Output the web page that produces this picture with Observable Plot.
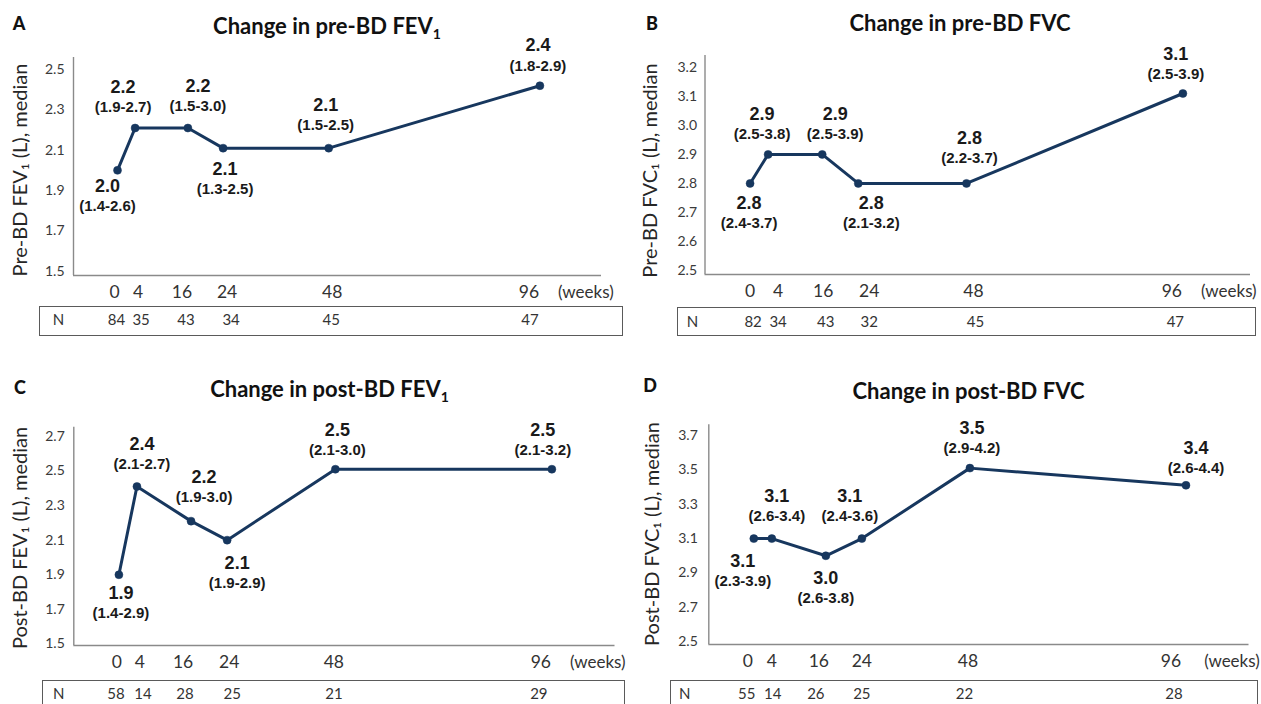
<!DOCTYPE html>
<html>
<head>
<meta charset="utf-8">
<script src="https://cdn.jsdelivr.net/npm/d3@7"></script>
<script src="https://cdn.jsdelivr.net/npm/@observablehq/plot@0.6"></script>
<style>
  html, body { margin: 0; padding: 0; background: #fff; }
  body { width: 1261px; height: 704px; overflow: hidden; position: relative; font-family: Lato, "Open Sans", sans-serif; }
  .panel { position: absolute; }
  .title { position: absolute; font-family: Lato, sans-serif; font-weight: bold; font-size: 22px; line-height: 22px; color: #111; white-space: nowrap; transform: translate(-50%, -50%); }
  .title sub { font-size: 14px; line-height: 0; vertical-align: -5px; }
  .letter { position: absolute; font-family: Lato, sans-serif; font-weight: 900; font-size: 18px; line-height: 18px; color: #111; transform: translate(-50%, -50%); }
  .nbox { position: absolute; border: 1.4px solid #5a5a5a; box-sizing: border-box; background: transparent; }
</style>
</head>
<body>
<script>
// ---------- data ----------
const weeks = [0, 4, 16, 24, 48, 96];

const preFev1Median = [2.00, 2.21, 2.21, 2.11, 2.11, 2.42];
const preFev1Label  = ["2.0", "2.2", "2.2", "2.1", "2.1", "2.4"];
const preFev1Range  = ["(1.4-2.6)", "(1.9-2.7)", "(1.5-3.0)", "(1.3-2.5)", "(1.5-2.5)", "(1.8-2.9)"];
const preFev1N      = [84, 35, 43, 34, 45, 47];
const preFev1Ticks  = [1.5, 1.7, 1.9, 2.1, 2.3, 2.5];

const preFvcMedian = [2.80, 2.90, 2.90, 2.80, 2.80, 3.11];
const preFvcLabel  = ["2.8", "2.9", "2.9", "2.8", "2.8", "3.1"];
const preFvcRange  = ["(2.4-3.7)", "(2.5-3.8)", "(2.5-3.9)", "(2.1-3.2)", "(2.2-3.7)", "(2.5-3.9)"];
const preFvcN      = [82, 34, 43, 32, 45, 47];
const preFvcTicks  = [2.5, 2.6, 2.7, 2.8, 2.9, 3.0, 3.1, 3.2];

const postFev1Median = [1.90, 2.41, 2.21, 2.10, 2.51, 2.51];
const postFev1Label  = ["1.9", "2.4", "2.2", "2.1", "2.5", "2.5"];
const postFev1Range  = ["(1.4-2.9)", "(2.1-2.7)", "(1.9-3.0)", "(1.9-2.9)", "(2.1-3.0)", "(2.1-3.2)"];
const postFev1N      = [58, 14, 28, 25, 21, 29];
const postFev1Ticks  = [1.5, 1.7, 1.9, 2.1, 2.3, 2.5, 2.7];

const postFvcMedian = [3.10, 3.10, 3.00, 3.10, 3.51, 3.41];
const postFvcLabel  = ["3.1", "3.1", "3.0", "3.1", "3.5", "3.4"];
const postFvcRange  = ["(2.3-3.9)", "(2.6-3.4)", "(2.6-3.8)", "(2.4-3.6)", "(2.9-4.2)", "(2.6-4.4)"];
const postFvcN      = [55, 14, 26, 25, 22, 28];
const postFvcTicks  = [2.5, 2.7, 2.9, 3.1, 3.3, 3.5, 3.7];

const titles  = ["Change in pre-BD FEV<sub>1</sub>", "Change in pre-BD FVC", "Change in post-BD FEV<sub>1</sub>", "Change in post-BD FVC"];
const letters = ["A", "B", "C", "D"];
const yLabels = ["Pre-BD FEV\u2081 (L), median", "Pre-BD FVC\u2081 (L), median", "Post-BD FEV\u2081 (L), median", "Post-BD FVC\u2081 (L), median"];

// ---------- layout (not data) ----------
const navy = "#17375E";
const layouts = [
  { left: 0, top: 0, width: 630, height: 340, mL: 73, mR: 29, mT: 57, mB: 65,
    xDomain: [-10, 110], yDomain: [1.478, 2.56], tickPadY: 9,
    yLabDx: -53, yLabDy: 3.5, nDy: 45, nLabDx: -15,
    tickDx: [-3, 3, -6, 4, 3.5, -11], nDx: [-1, 6, -2, 8, 2.5, -10],
    offs: [[-10, 16], [-12, -41], [10, -42], [2, 21], [-3, -43], [-2, -40]],
    title: [327, 26], letter: [19, 23], box: [39, 306, 584, 30] },
  { left: 630, top: 0, width: 631, height: 340, mL: 74.5, mR: 11, mT: 55, mB: 66,
    xDomain: [-10, 111], yDomain: [2.486, 3.241], tickPadY: 8,
    yLabDx: -54.5, yLabDy: 5.5, nDy: 47.5, nLabDx: -12.5,
    tickDx: [0, 10, 1, 11, 7, -11], nDx: [3, 10, 3.5, 11, 9, -7.5],
    offs: [[-1, 20], [-6, -40], [13, -40], [13, 20], [3, -45], [-7, -39]],
    title: [960, 23], letter: [652, 23], box: [677, 307, 579, 29] },
  { left: 0, top: 340, width: 630, height: 364, mL: 73.3, mR: 15.5, mT: 86.7, mB: 59,
    xDomain: [-10, 110], yDomain: [1.491, 2.753], tickPadY: 9,
    yLabDx: -53.3, yLabDy: 1.6, nDy: 48.3, nLabDx: -15,
    tickDx: [-2, 3, -8, 2, -1.5, -11], nDx: [-3, 6, -6, 5, -1.5, -13],
    offs: [[2, 18], [5, -42], [13, -44], [10, 23], [2, -39], [-9, -39]],
    title: [329.5, 389], letter: [20, 387], box: [42, 680, 583, 40] },
  { left: 630, top: 340, width: 631, height: 364, mL: 78.3, mR: 12.5, mT: 84.3, mB: 60,
    xDomain: [-10, 110], yDomain: [2.484, 3.762], tickPadY: 11,
    yLabDx: -56.3, yLabDy: -0.6, nDy: 49.3, nLabDx: -24,
    tickDx: [-6, 0, -7, 0, -2, -15], nDx: [-7, 1, -10, 0, -5.5, -12],
    offs: [[-11, 23], [5, -42], [0, 22], [-12, -42], [2, -40], [10, -37.5]],
    title: [968.5, 391], letter: [650, 385], box: [670, 679.5, 588, 40] }
];

const series = [
  { median: preFev1Median, label: preFev1Label, range: preFev1Range, n: preFev1N, ticks: preFev1Ticks },
  { median: preFvcMedian, label: preFvcLabel, range: preFvcRange, n: preFvcN, ticks: preFvcTicks },
  { median: postFev1Median, label: postFev1Label, range: postFev1Range, n: postFev1N, ticks: postFev1Ticks },
  { median: postFvcMedian, label: postFvcLabel, range: postFvcRange, n: postFvcN, ticks: postFvcTicks }
];

const annoFont = "Liberation Sans, Arial, sans-serif";

series.forEach((s, p) => {
  const L = layouts[p];
  const rows = weeks.map((w, i) => ({ week: w, median: s.median[i], label: s.label[i], range: s.range[i], n: s.n[i] }));
  const axisColor = "#8a8a8a";
  const marks = [
    Plot.ruleX([L.xDomain[0]], { stroke: axisColor, strokeWidth: 1.4 }),
    Plot.ruleY([L.yDomain[0]], { stroke: axisColor, strokeWidth: 1.4 }),
    Plot.axisY({ ticks: s.ticks, tickSize: 0, tickPadding: L.tickPadY, tickFormat: d3.format(".1f"),
                 fontSize: 14, fill: "#3a3a3a", label: null }),
    // x tick labels (weeks)
    ...rows.map((r, i) => Plot.text([r], { x: "week", text: d => String(d.week), frameAnchor: "bottom",
                 dy: 17, dx: L.tickDx[i], fontSize: 17.5, fill: "#333", lineAnchor: "middle" })),
    Plot.text([{ w: weeks[weeks.length - 1], t: "(weeks)" }], { x: "w", text: "t", frameAnchor: "bottom",
                 dy: 17, dx: 46, fontSize: 17, fill: "#333", lineAnchor: "middle" }),
    Plot.text([yLabels[p]], { frameAnchor: "left", rotate: -90, textAnchor: "middle", lineAnchor: "middle",
                 dx: L.yLabDx, dy: L.yLabDy, fontSize: 20, fill: "#262626" }),
    Plot.text(["N"], { frameAnchor: "bottom-left", textAnchor: "middle", lineAnchor: "middle",
                 dx: L.nLabDx, dy: L.nDy, fontSize: 15, fill: "#333" }),
    ...rows.map((r, i) => Plot.text([r], { x: "week", text: d => String(d.n), frameAnchor: "bottom", lineAnchor: "middle",
                 dy: L.nDy, dx: L.nDx[i], fontSize: 15, fill: "#333" })),
    Plot.line(rows, { x: "week", y: "median", stroke: navy, strokeWidth: 3 }),
    Plot.dot(rows, { x: "week", y: "median", r: 4, fill: navy, stroke: navy, strokeWidth: 0.5 }),
    ...rows.map((r, i) => Plot.text([r], { x: "week", y: "median", text: "label",
                 dx: L.offs[i][0], dy: L.offs[i][1], fontFamily: annoFont,
                 fontWeight: "bold", fontSize: 18, fill: "#1a1a1a", lineAnchor: "middle" })),
    ...rows.map((r, i) => Plot.text([r], { x: "week", y: "median", text: "range",
                 dx: L.offs[i][0], dy: L.offs[i][1] + 20, fontFamily: annoFont,
                 fontWeight: "bold", fontSize: 15, fill: "#1a1a1a", lineAnchor: "middle" }))
  ];
  const chart = Plot.plot({
    width: L.width, height: L.height,
    marginLeft: L.mL, marginRight: L.mR, marginTop: L.mT, marginBottom: L.mB,
    x: { domain: L.xDomain, axis: null },
    y: { domain: L.yDomain },
    style: { fontFamily: "Lato, 'Open Sans', sans-serif", background: "transparent", overflow: "visible" },
    marks
  });
  const div = document.createElement("div");
  div.className = "panel";
  div.style.left = L.left + "px";
  div.style.top = L.top + "px";
  div.style.width = L.width + "px";
  div.style.height = L.height + "px";
  div.appendChild(chart);
  document.body.appendChild(div);

  const box = document.createElement("div");
  box.className = "nbox";
  box.style.left = L.box[0] + "px"; box.style.top = L.box[1] + "px";
  box.style.width = L.box[2] + "px"; box.style.height = L.box[3] + "px";
  document.body.appendChild(box);

  const t = document.createElement("div");
  t.className = "title";
  t.innerHTML = titles[p];
  t.style.left = L.title[0] + "px"; t.style.top = L.title[1] + "px";
  document.body.appendChild(t);

  const lt = document.createElement("div");
  lt.className = "letter";
  lt.textContent = letters[p];
  lt.style.left = L.letter[0] + "px"; lt.style.top = L.letter[1] + "px";
  document.body.appendChild(lt);
});
</script>
</body>
</html>
